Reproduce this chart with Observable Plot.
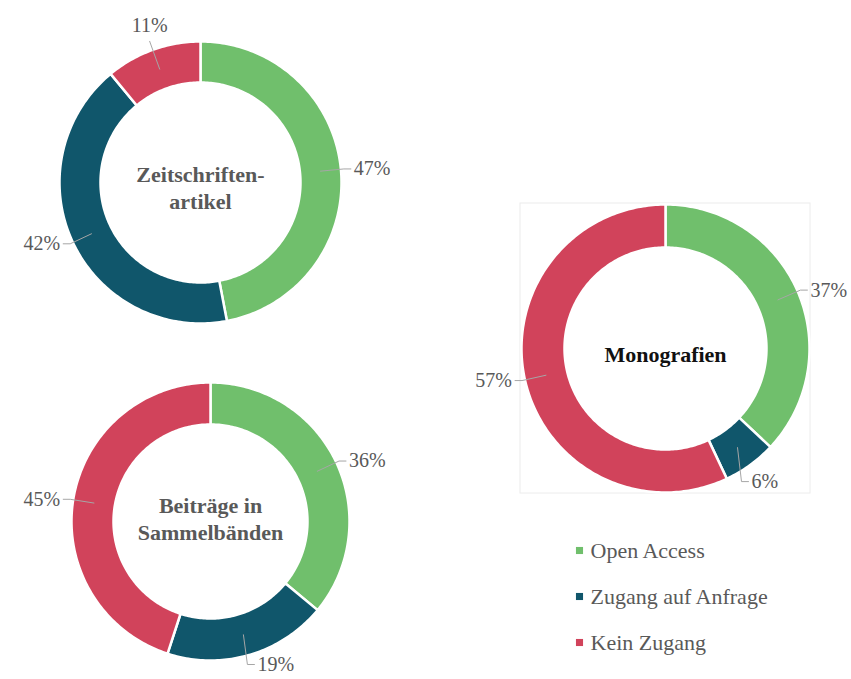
<!DOCTYPE html>
<html>
<head>
<meta charset="utf-8">
<script src="https://cdn.jsdelivr.net/npm/d3@7"></script>
<script src="https://cdn.jsdelivr.net/npm/@observablehq/plot@0.6"></script>
<style>
  html, body { margin: 0; padding: 0; background: #fff; }
  #chart svg { display: block; }
</style>
</head>
<body>
<div id="chart"></div>
<script>
// ---- data ----
const categories = ["Open Access", "Zugang auf Anfrage", "Kein Zugang"];
const chartNames = ["Zeitschriftenartikel", "Beiträge in Sammelbänden", "Monografien"];
const chartTitles = ["Zeitschriften-\nartikel", "Beiträge in\nSammelbänden", "Monografien"];
const zeitschriftenartikel = [47, 42, 11];
const beitraege = [36, 19, 45];
const monografien = [37, 6, 57];
const seriesValues = [zeitschriftenartikel, beitraege, monografien];

// ---- style / layout ----
const colors = ["#70bf6c", "#10566b", "#d1435b"];
const textGray = "#595959";
const fontFamily = "'Liberation Serif', 'DejaVu Serif', serif";
const layout = [
  {cx: 200, cy: 182, R: 141, r: 100, titleFill: textGray, titleDy: 4},
  {cx: 210, cy: 521, R: 139, r: 97, titleFill: textGray, titleDy: -4},
  {cx: 665, cy: 348, R: 144, r: 101, titleFill: "#111", titleDy: 6}
];

// ---- build geometry from values ----
const pt = (L, rad, a) => ({x: L.cx + rad * Math.sin(a), y: L.cy - rad * Math.cos(a)});
const slices = [];
const leaders = [];
const labels = [];
seriesValues.forEach((vals, ci) => {
  const L = layout[ci];
  const total = d3.sum(vals);
  let acc = 0;
  vals.forEach((v, k) => {
    const a0 = acc / total * 2 * Math.PI;
    acc += v;
    const a1 = acc / total * 2 * Math.PI;
    const key = ci + "-" + k;
    const n = Math.max(2, Math.ceil((a1 - a0) / (Math.PI / 180)));
    for (let i = 0; i <= n; i++) {
      const a = a0 + (a1 - a0) * i / n;
      slices.push({key, cat: categories[k], ...pt(L, L.R, a)});
    }
    for (let i = n; i >= 0; i--) {
      const a = a0 + (a1 - a0) * i / n;
      slices.push({key, cat: categories[k], ...pt(L, L.r, a)});
    }
    // label
    const am = (a0 + a1) / 2;
    const s = Math.sin(am), c = Math.cos(am);
    const start = pt(L, (L.R + L.r) / 2, am);
    const text = Math.round(v / total * 100) + "%";
    const dir = s > 0 ? 1 : -1;
    if (c > 0 && Math.abs(s) < 0.4) {
      // top: label above the leader end
      const elbow = pt(L, L.R + 9, am);
      leaders.push({key, ...start}, {key, ...elbow});
      labels.push({text, x: elbow.x, y: elbow.y - 16, anchor: "middle"});
    } else {
      // bottom labels drop nearly vertically, side labels go radially
      const elbow = c < -0.5 ? {x: start.x + dir * 4, y: Math.min(start.y + 34, 664)} : pt(L, L.R + 3, am);
      const end = {x: elbow.x + dir * 7, y: elbow.y};
      leaders.push({key, ...start}, {key, ...elbow}, {key, ...end});
      labels.push({text, x: end.x + dir * 3, y: end.y, anchor: dir > 0 ? "start" : "end"});
    }
  });
});
const titles = chartTitles.map((t, i) => ({text: t, x: layout[i].cx, y: layout[i].cy + layout[i].titleDy, fill: layout[i].titleFill}));
const legendRows = categories.map((c, i) => ({cat: c, i}));
const legendX = 579, legendY = 550, legendStep = 46;
const box = layout[2];

const plot = Plot.plot({
  width: 851,
  height: 679,
  margin: 0,
  x: {domain: [0, 851], range: [0, 851], axis: null},
  y: {domain: [0, 679], range: [0, 679], axis: null},
  color: {domain: categories, range: colors},
  style: {fontFamily, background: "#fff"},
  marks: [
    Plot.rect([box], {x1: d => d.cx - d.R - 1, x2: d => d.cx + d.R + 1, y1: d => d.cy - d.R - 1, y2: d => d.cy + d.R + 1, fill: "none", stroke: "#ececec", strokeWidth: 1}),
    Plot.line(slices, {x: "x", y: "y", z: "key", fill: "cat", stroke: "#fff", strokeWidth: 2.5, curve: "linear-closed"}),
    Plot.line(leaders, {x: "x", y: "y", z: "key", stroke: "#a6a6a6", strokeWidth: 1}),
    Plot.text(labels.filter(d => d.anchor === "start"), {x: "x", y: "y", text: "text", textAnchor: "start", fontSize: 20, fill: textGray}),
    Plot.text(labels.filter(d => d.anchor === "end"), {x: "x", y: "y", text: "text", textAnchor: "end", fontSize: 20, fill: textGray}),
    Plot.text(labels.filter(d => d.anchor === "middle"), {x: "x", y: "y", text: "text", textAnchor: "middle", fontSize: 20, fill: textGray}),
    Plot.text(titles.filter(d => d.fill === textGray), {x: "x", y: "y", text: "text", fontSize: 22, fontWeight: "bold", lineHeight: 1.25, lineAnchor: "middle", fill: textGray}),
    Plot.text(titles.filter(d => d.fill !== textGray), {x: "x", y: "y", text: "text", fontSize: 22, fontWeight: "bold", lineAnchor: "middle", fill: "#111"}),
    Plot.dot(legendRows, {x: () => legendX, y: d => legendY + d.i * legendStep, symbol: "square", r: 4, fill: "cat"}),
    Plot.text(legendRows, {x: () => legendX + 11, y: d => legendY + d.i * legendStep, text: "cat", textAnchor: "start", fontSize: 22, fill: textGray})
  ]
});
document.getElementById("chart").appendChild(plot);
</script>
</body>
</html>
